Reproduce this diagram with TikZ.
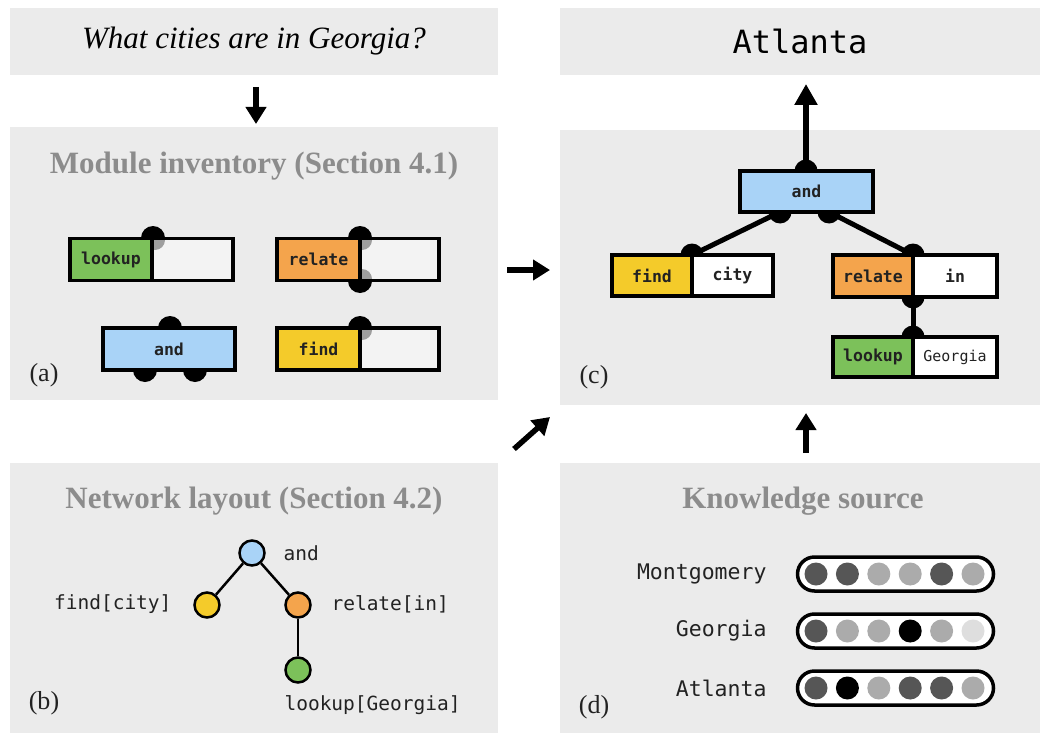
\documentclass[tikz,border=0pt]{standalone}
\usepackage{fontspec}
\setmainfont{Liberation Serif}
\newfontfamily\monof{DejaVu Sans Mono}
\usetikzlibrary{arrows.meta,calc}
\definecolor{panelgray}{HTML}{EBEBEB}
\definecolor{titlegray}{HTML}{8C8C8C}
\definecolor{mgreen}{HTML}{7CC15A}
\definecolor{morange}{HTML}{F4A44C}
\definecolor{mblue}{HTML}{A9D3F7}
\definecolor{myellow}{HTML}{F4CB2A}
\definecolor{mwhite}{HTML}{F3F3F3}
\definecolor{dotdark}{HTML}{565656}
\definecolor{dotlight}{HTML}{ABABAB}
\definecolor{dotvlight}{HTML}{DEDEDE}
\definecolor{inkdark}{HTML}{222222}
\begin{document}
\begin{tikzpicture}[x=1pt,y=-1pt,
  panel/.style={fill=panelgray, inner sep=0pt},
  title/.style={font=\bfseries\fontsize{31}{34}\selectfont, text=titlegray},
  plabel/.style={font=\fontsize{26}{28}\selectfont, text=inkdark},
  mod/.style={draw=black, line width=3.5pt, inner sep=0pt, minimum height=42pt,
    font=\monof\bfseries\fontsize{16.5}{18}\selectfont, text=inkdark},
  knob/.style={fill=black},
  shade/.style={fill=black, opacity=0.35},
  conn/.style={draw=black, line width=5pt},
  flow/.style={draw=black, line width=5.5pt, -{Triangle[width=20pt,length=17pt]}},
  bigflow/.style={draw=black, line width=6pt, -{Triangle[width=22pt,length=21pt]}},
  tnode/.style={circle, draw=black, line width=2.5pt, minimum size=25pt, inner sep=0pt},
  tedge/.style={draw=black, line width=2.5pt},
  tlabel/.style={font=\monof\fontsize{19.5}{22}\selectfont, text=inkdark},
  klabel/.style={font=\monof\fontsize{21.5}{24}\selectfont, text=inkdark, anchor=east},
  pill/.style={draw=black, line width=3.5pt, fill=white, rounded corners=17pt,
    minimum width=196pt, minimum height=34pt, inner sep=0pt},
  dot/.style={circle, minimum size=23pt, inner sep=0pt},
]
\useasboundingbox (0,0) rectangle (1040,733);

% ---------- panels ----------
\node[panel, minimum width=488pt, minimum height=67pt] (q) at (254,41.5)
  {\itshape\fontsize{31}{34}\selectfont What cities are in Georgia?};
\node[panel, minimum width=480pt, minimum height=67pt] (ans) at (800,41.5)
  {\monof\fontsize{32}{35}\selectfont Atlanta};
\node[panel, minimum width=488pt, minimum height=273pt] (pa) at (254,263.5) {};
\node[panel, minimum width=480pt, minimum height=275pt] (pc) at (800,267.5) {};
\node[panel, minimum width=488pt, minimum height=270pt] (pb) at (254,598) {};
\node[panel, minimum width=480pt, minimum height=270pt] (pd) at (800,598) {};

% ---------- arrows between panels ----------
\coordinate (a1s) at (256,87);
\coordinate (a1e) at (256,124);
\draw[flow] (a1s) -- (a1e);
\coordinate (a2s) at (507,270);
\coordinate (a2e) at (550,270);
\draw[flow] (a2s) -- (a2e);
\coordinate (a3s) at (514,449);
\coordinate (a3e) at (550,417);
\draw[flow] (a3s) -- (a3e);
\coordinate (a4s) at (806,453);
\coordinate (a4e) at (806,413);
\draw[flow] (a4s) -- (a4e);

% ---------- (a) module inventory ----------
\node[title] (ta) at (254,166) {Module inventory (Section 4.1)};
\node[plabel] (la) at (44,375) {(a)};

\fill[knob] (153,238) circle[radius=12pt];
\node[mod, fill=mgreen, minimum width=82pt] (aLookL) at (111,259.5) {lookup};
\node[mod, fill=mwhite, minimum width=81pt] (aLookR) at (192.5,259.5) {};
\begin{scope}
  \clip ($(aLookR.north west)+(2,2)$) rectangle (aLookR.south east);
  \fill[shade] (155,240) circle[radius=10pt];
\end{scope}

\fill[knob] (360,238) circle[radius=12pt];
\fill[knob] (360,281) circle[radius=12pt];
\node[mod, fill=morange, minimum width=83pt] (aRelL) at (318.5,259.5) {relate};
\node[mod, fill=mwhite, minimum width=79pt] (aRelR) at (399.5,259.5) {};
\begin{scope}
  \clip ($(aRelR.north west)+(2,2)$) rectangle ($(aRelR.south east)+(0,-2)$);
  \fill[shade] (362,240) circle[radius=10pt];
  \fill[shade] (362,279) circle[radius=10pt];
\end{scope}

\fill[knob] (170,328) circle[radius=12pt];
\fill[knob] (145,370) circle[radius=12pt];
\fill[knob] (195,370) circle[radius=12pt];
\node[mod, fill=mblue, minimum width=132pt] (aAnd) at (169,349) {and};

\fill[knob] (360,328) circle[radius=12pt];
\node[mod, fill=myellow, minimum width=83pt] (aFindL) at (318.5,349) {find};
\node[mod, fill=mwhite, minimum width=79pt] (aFindR) at (399.5,349) {};
\begin{scope}
  \clip ($(aFindR.north west)+(2,2)$) rectangle (aFindR.south east);
  \fill[shade] (362,330) circle[radius=10pt];
\end{scope}

% ---------- (c) assembled network ----------
\node[plabel] (lc) at (594,377) {(c)};
\coordinate (cAndT) at (806,171);
\coordinate (cOut) at (806,84);
\coordinate (cAndB1) at (780,212);
\coordinate (cAndB2) at (829,212);
\coordinate (cFindT) at (692,255);
\coordinate (cRelT) at (913,255);
\coordinate (cRelB) at (913,297);
\coordinate (cLookT) at (913,337);

\draw[conn] (cAndB1) -- (cFindT);
\draw[conn] (cAndB2) -- (cRelT);
\draw[conn] (cRelB) -- (cLookT);
\draw[bigflow] (cAndT) -- (cOut);
\foreach \k in {cAndT,cAndB1,cAndB2,cFindT,cRelT,cRelB,cLookT}
  \fill[knob] (\k) circle[radius=11.5pt];

\node[mod, fill=mblue, minimum width=133pt, minimum height=41pt] (cAnd) at (806.5,191.5) {and};
\node[mod, fill=myellow, minimum width=80pt, minimum height=41pt] (cFindL) at (652,275.5) {find};
\node[mod, fill=white, minimum width=81pt, minimum height=41pt] (cFindR) at (732.5,275.5) {city};
\node[mod, fill=morange, minimum width=80pt] (cRelL) at (873,276) {relate};
\node[mod, fill=white, minimum width=84pt] (cRelR) at (955,276) {in};
\node[mod, fill=mgreen, minimum width=80pt, minimum height=40pt] (cLookL) at (873,357) {lookup};
\node[mod, fill=white, minimum width=84pt, minimum height=40pt,
  font=\monof\fontsize{15}{17}\selectfont] (cLookR) at (955,357) {Georgia};

% ---------- (b) network layout ----------
\node[title] (tb) at (254,501) {Network layout (Section 4.2)};
\node[plabel] (lb) at (44,703) {(b)};
\node[tnode, fill=mblue] (bAnd) at (252,553) {};
\node[tnode, fill=myellow] (bFind) at (207,605) {};
\node[tnode, fill=morange] (bRel) at (298,605) {};
\node[tnode, fill=mgreen] (bLook) at (298,670) {};
\draw[tedge] (bAnd) -- (bFind);
\draw[tedge] (bAnd) -- (bRel);
\draw[tedge] (bRel) -- (bLook);
\node[tlabel, anchor=west] (bAndT) at (280,553) {and};
\node[tlabel, anchor=east] (bFindT) at (175,604) {find[city]};
\node[tlabel, anchor=west] (bRelT) at (328,604) {relate[in]};
\node[tlabel, anchor=west] (bLookT) at (281,705) {lookup[Georgia]};

% ---------- (d) knowledge source ----------
\node[title] (td) at (803,501) {Knowledge source};
\node[plabel] (ld) at (594,707) {(d)};
\node[klabel] (kMont) at (770,574) {Montgomery};
\node[klabel] (kGeo) at (770,631) {Georgia};
\node[klabel] (kAtl) at (770,688) {Atlanta};
\node[pill] (pMont) at (895.5,574) {};
\node[pill] (pGeo) at (895.5,631) {};
\node[pill] (pAtl) at (895.5,688) {};
\foreach \c [count=\i] in {dotdark,dotdark,dotlight,dotlight,dotdark,dotlight}
  \node[dot, fill=\c] (dm\i) at (816+31.4*\i-31.4,574) {};
\foreach \c [count=\i] in {dotdark,dotlight,dotlight,black,dotlight,dotvlight}
  \node[dot, fill=\c] (dg\i) at (816+31.4*\i-31.4,631) {};
\foreach \c [count=\i] in {dotdark,black,dotlight,dotdark,dotdark,dotlight}
  \node[dot, fill=\c] (da\i) at (816+31.4*\i-31.4,688) {};
\end{tikzpicture}
\end{document}
